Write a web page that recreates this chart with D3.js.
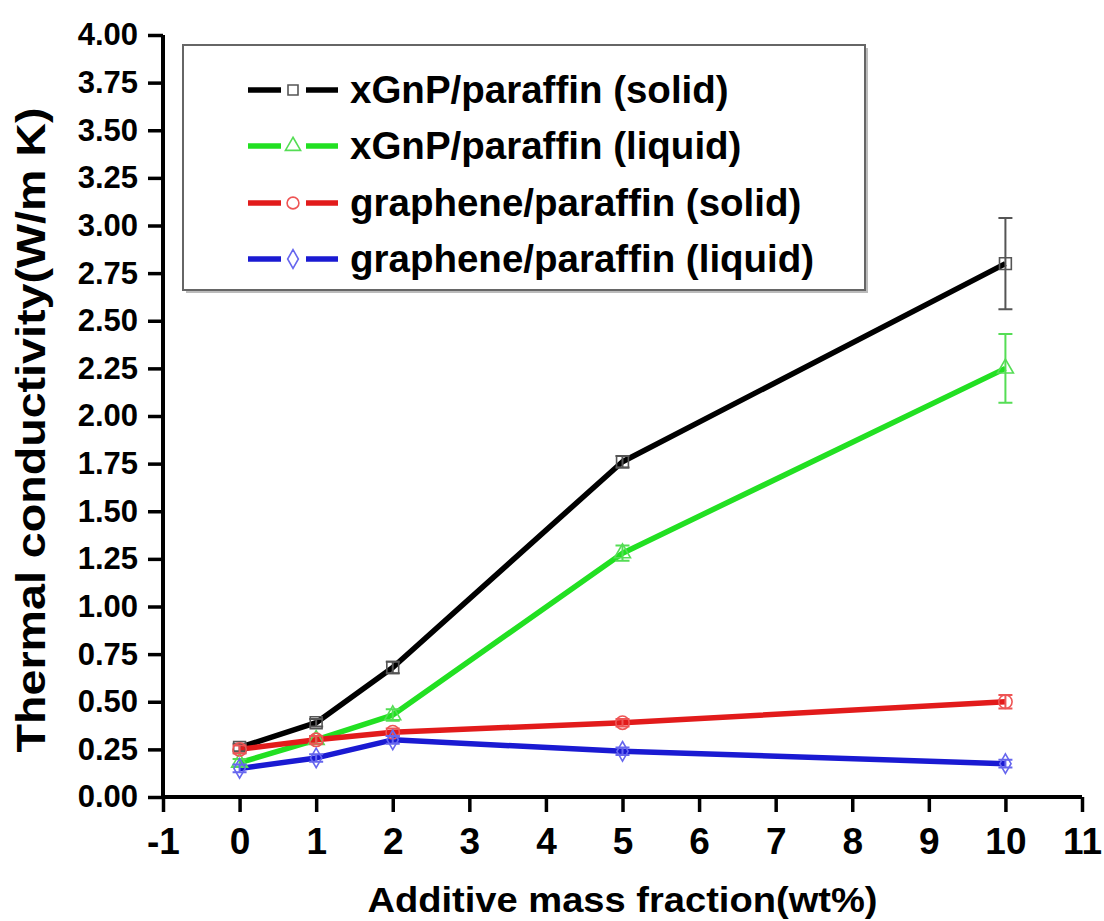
<!DOCTYPE html>
<html>
<head>
<meta charset="utf-8">
<script src="https://cdn.jsdelivr.net/npm/d3@7"></script>
<style>
  html, body { margin: 0; padding: 0; background: #fff; }
  svg { display: block; font-family: "Liberation Sans", Arial, sans-serif; font-weight: bold; }
</style>
</head>
<body>
<svg id="chart" width="1104" height="921"></svg>
<script>
// ---- data ----
const massFraction = [0, 1, 2, 5, 10];
const seriesNames = ["xGnP/paraffin (solid)", "xGnP/paraffin (liquid)", "graphene/paraffin (solid)", "graphene/paraffin (liquid)"];
const xgnpSolid = [0.26, 0.39, 0.68, 1.76, 2.80];
const xgnpSolidErr = [0.02, 0.02, 0.03, 0.03, 0.24];
const xgnpLiquid = [0.18, 0.30, 0.43, 1.28, 2.25];
const xgnpLiquidErr = [0.02, 0.02, 0.03, 0.04, 0.18];
const grapheneSolid = [0.25, 0.30, 0.34, 0.39, 0.50];
const grapheneSolidErr = [0.02, 0.02, 0.02, 0.02, 0.035];
const grapheneLiquid = [0.15, 0.205, 0.30, 0.24, 0.175];
const grapheneLiquidErr = [0.02, 0.02, 0.02, 0.02, 0.02];
const xTickValues = [-1, 0, 1, 2, 3, 4, 5, 6, 7, 8, 9, 10, 11];
const yTickValues = [0, 0.25, 0.5, 0.75, 1.0, 1.25, 1.5, 1.75, 2.0, 2.25, 2.5, 2.75, 3.0, 3.25, 3.5, 3.75, 4.0];
const xTitle = "Additive mass fraction(wt%)";
const yTitle = "Thermal conductivity(W/m K)";

const series = [
  { name: seriesNames[0], values: xgnpSolid, err: xgnpSolidErr, color: "#000000", mcolor: "#555555", sym: d3.symbolSquare },
  { name: seriesNames[1], values: xgnpLiquid, err: xgnpLiquidErr, color: "#22e022", mcolor: "#55dd55", sym: d3.symbolTriangle },
  { name: seriesNames[2], values: grapheneSolid, err: grapheneSolidErr, color: "#e21b1b", mcolor: "#ee5555", sym: d3.symbolCircle },
  { name: seriesNames[3], values: grapheneLiquid, err: grapheneLiquidErr, color: "#1a1ad2", mcolor: "#6666ee", sym: d3.symbolDiamond }
];

const svg = d3.select("#chart");
const x = d3.scaleLinear().domain([-1, 11]).range([163, 1082]);
const y = d3.scaleLinear().domain([0, 4]).range([797, 35]);

// ---- axes ----
const yMinor = d3.range(0.125, 4, 0.25);
const xMinor = d3.range(-0.5, 11, 1);

const gy = svg.append("g").attr("transform", `translate(${x(-1)},0)`);
gy.call(d3.axisLeft(y).tickValues(yMinor).tickSize(7).tickFormat(""));
gy.call(d3.axisLeft(y).tickValues(yTickValues).tickSize(15).tickPadding(10).tickFormat(d3.format(".2f")));
gy.selectAll("path.domain").attr("stroke", "#000").attr("stroke-width", 4);
gy.selectAll(".tick line").attr("stroke", "#000").attr("stroke-width", 3.5);
gy.selectAll(".tick text").attr("font-size", 31).attr("font-weight", "bold").attr("fill", "#000")
  .attr("font-family", "Liberation Sans, Arial, sans-serif");

const gx = svg.append("g").attr("transform", `translate(0,${y(0)})`);
gx.call(d3.axisBottom(x).tickValues(xMinor).tickSize(8).tickFormat(""));
gx.call(d3.axisBottom(x).tickValues(xTickValues).tickSize(15).tickPadding(16).tickFormat(d => String(d)));
gx.selectAll("path.domain").attr("stroke", "#000").attr("stroke-width", 4);
gx.selectAll(".tick line").attr("stroke", "#000").attr("stroke-width", 3.5);
gx.selectAll(".tick text").attr("font-size", 37).attr("font-weight", "bold").attr("fill", "#000")
  .attr("font-family", "Liberation Sans, Arial, sans-serif");
gy.selectAll("path.domain").attr("d", `M0,${y(0) + 2}V${y(4)}`);
gx.selectAll("path.domain").attr("d", `M${x(-1) - 2},0H${x(11)}`);

// ---- titles ----
svg.append("text")
  .attr("x", (x(-1) + x(11)) / 2).attr("y", 912)
  .attr("text-anchor", "middle")
  .attr("font-size", 35).attr("fill", "#000")
  .attr("textLength", 510).attr("lengthAdjust", "spacingAndGlyphs")
  .text(xTitle);

svg.append("text")
  .attr("transform", `translate(45,430) rotate(-90)`)
  .attr("text-anchor", "middle")
  .attr("font-size", 41).attr("fill", "#000")
  .attr("textLength", 645).attr("lengthAdjust", "spacingAndGlyphs")
  .text(yTitle);

// ---- data ----
const plot = svg.append("g");
const line = d3.line().x((d, i) => x(massFraction[i])).y(d => y(d));

series.forEach(s => {
  plot.append("path")
    .attr("d", line(s.values))
    .attr("fill", "none")
    .attr("stroke", s.color)
    .attr("stroke-width", 5.5)
    .attr("stroke-linejoin", "round");
});

series.forEach(s => {
  const g = plot.append("g");
  s.values.forEach((v, i) => {
    const cx = x(massFraction[i]);
    const e = s.err[i];
    g.append("path")
      .attr("d", `M${cx},${y(v - e)}V${y(v + e)}M${cx - 7},${y(v - e)}H${cx + 7}M${cx - 7},${y(v + e)}H${cx + 7}`)
      .attr("stroke", s.mcolor).attr("stroke-width", 2).attr("fill", "none");
    g.append("path")
      .attr("transform", `translate(${cx},${y(v)})`)
      .attr("d", d3.symbol().type(s.sym).size(s.sym === d3.symbolTriangle ? 110 : (s.sym === d3.symbolDiamond ? 110 : 140))())
      .attr("fill", "none")
      .attr("stroke", s.mcolor).attr("stroke-width", 1.6);
  });
});

// ---- legend ----
const legend = svg.append("g");
legend.append("rect").attr("x", 186).attr("y", 48).attr("width", 682).attr("height", 245)
  .attr("fill", "#bbb");
legend.append("rect").attr("x", 183).attr("y", 45).attr("width", 682).attr("height", 245)
  .attr("fill", "#fff").attr("stroke", "#666").attr("stroke-width", 2);

const legendBaselines = [103, 159, 216, 272];
series.forEach((s, i) => {
  const by = legendBaselines[i];
  const ly = by - 13;
  legend.append("line").attr("x1", 248).attr("x2", 281).attr("y1", ly).attr("y2", ly)
    .attr("stroke", s.color).attr("stroke-width", 5.5);
  legend.append("line").attr("x1", 306).attr("x2", 338).attr("y1", ly).attr("y2", ly)
    .attr("stroke", s.color).attr("stroke-width", 5.5);
  legend.append("path")
    .attr("transform", `translate(293,${ly})`)
    .attr("d", d3.symbol().type(s.sym).size(s.sym === d3.symbolCircle ? 110 : 100)())
    .attr("fill", "none").attr("stroke", s.mcolor).attr("stroke-width", 1.6);
  legend.append("text").attr("x", 350).attr("y", by)
    .attr("font-size", 38.5).attr("fill", "#000")
    .text(s.name);
});
</script>
</body>
</html>
